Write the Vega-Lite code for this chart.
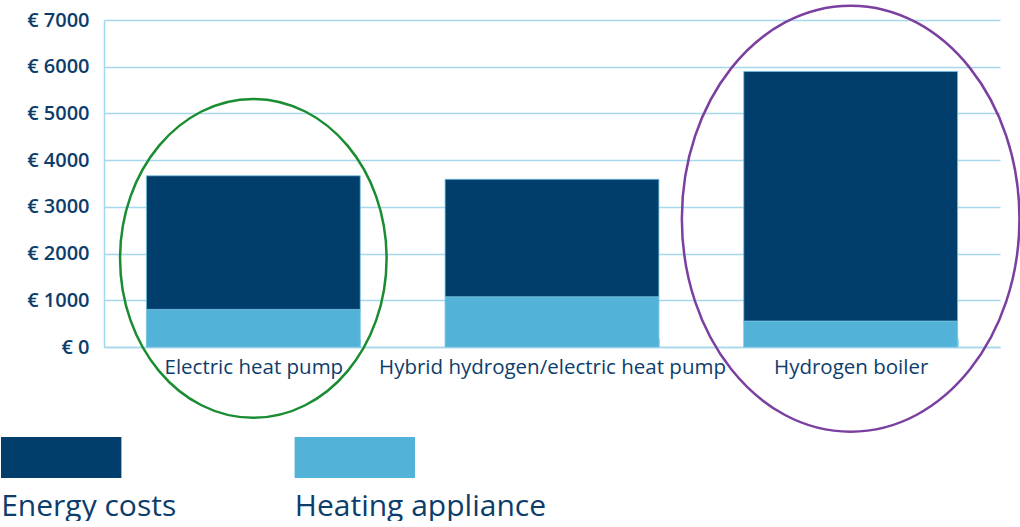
{
  "$schema": "https://vega.github.io/schema/vega-lite/v6.json",
  "padding": {"left": 0, "top": 0, "right": 0, "bottom": 0},
  "background": "white",
  "spacing": 0,
  "config": {
    "view": {"stroke": null},
    "font": "Open Sans",
    "axis": {"labelFont": "Open Sans"}
  },
  "vconcat": [
    {
      "width": 896,
      "height": 327,
      "layer": [
        {
          "data": {
            "values": [
              {"system": "Electric heat pump", "component": "Heating appliance", "cost": 805},
              {"system": "Electric heat pump", "component": "Energy costs", "cost": 2860},
              {"system": "Hybrid hydrogen/electric heat pump", "component": "Heating appliance", "cost": 1075},
              {"system": "Hybrid hydrogen/electric heat pump", "component": "Energy costs", "cost": 2515},
              {"system": "Hydrogen boiler", "component": "Heating appliance", "cost": 555},
              {"system": "Hydrogen boiler", "component": "Energy costs", "cost": 5345}
            ]
          },
          "mark": {"type": "bar", "stroke": "#72c2e2", "strokeWidth": 0.8},
          "encoding": {
            "x": {
              "field": "system",
              "type": "nominal",
              "sort": ["Electric heat pump", "Hybrid hydrogen/electric heat pump", "Hydrogen boiler"],
              "scale": {"paddingInner": 0.284, "paddingOuter": 0.142},
              "axis": {
                "title": null,
                "labelAngle": 0,
                "labelFontSize": 20.5,
                "labelColor": "#0d3d6b",
                "labelOverlap": false,
                "labelLimit": 0,
                "labelPadding": 19,
                "domainColor": "#a6d8ec",
                "domainWidth": 1.5,
                "tickColor": "#a6d8ec",
                "tickBand": "extent",
                "tickSize": -9,
                "tickWidth": 1
              }
            },
            "y": {
              "field": "cost",
              "type": "quantitative",
              "stack": "zero",
              "scale": {"domain": [0, 7000], "nice": false},
              "axis": {
                "title": null,
                "values": [0, 1000, 2000, 3000, 4000, 5000, 6000, 7000],
                "labelExpr": "'€ ' + datum.value",
                "labelFontSize": 20,
                "labelFontWeight": 600,
                "labelColor": "#0d3d6b",
                "labelPadding": 15,
                "minExtent": 103,
                "maxExtent": 103,
                "ticks": false,
                "domainColor": "#a6d8ec",
                "domainWidth": 1.5,
                "gridColor": "#a6d8ec",
                "gridWidth": 1.5
              }
            },
            "color": {
              "field": "component",
              "type": "nominal",
              "scale": {"domain": ["Energy costs", "Heating appliance"], "range": ["#023e6c", "#52b2d8"]},
              "legend": null
            },
            "order": {"field": "component", "sort": "descending"}
          }
        },
        {
          "data": {"values": [{"system": "Electric heat pump", "center": 1897}]},
          "mark": {
            "type": "point",
            "shape": "M0.836,0C0.836,0.5523,0.4617,1,0,1C-0.4617,1,-0.836,0.5523,-0.836,0C-0.836,-0.5523,-0.4617,-1,0,-1C0.4617,-1,0.836,-0.5523,0.836,0Z",
            "size": 101633,
            "filled": false,
            "opacity": 1,
            "stroke": "#1a8c32",
            "strokeWidth": 2.5
          },
          "encoding": {
            "x": {"field": "system", "type": "nominal"},
            "y": {"field": "center", "type": "quantitative"}
          }
        },
        {
          "data": {"values": [{"system": "Hydrogen boiler", "center": 2746}]},
          "mark": {
            "type": "point",
            "shape": "M0.7925,0C0.7925,0.5523,0.4377,1,0,1C-0.4377,1,-0.7925,0.5523,-0.7925,0C-0.7925,-0.5523,-0.4377,-1,0,-1C0.4377,-1,0.7925,-0.5523,0.7925,0Z",
            "size": 181476,
            "filled": false,
            "opacity": 1,
            "stroke": "#7b3fa0",
            "strokeWidth": 2.5
          },
          "encoding": {
            "x": {"field": "system", "type": "nominal"},
            "y": {"field": "center", "type": "quantitative"}
          }
        }
      ]
    },
    {
      "width": 414,
      "height": 41,
      "data": {"values": [{"component": "Energy costs"}, {"component": "Heating appliance"}]},
      "mark": {"type": "bar"},
      "encoding": {
        "x": {
          "field": "component",
          "type": "nominal",
          "scale": {"paddingInner": 0.59, "paddingOuter": 0, "align": 0, "range": [-103, 311]},
          "axis": {
            "title": null,
            "domain": false,
            "ticks": false,
            "grid": false,
            "labelAngle": 0,
            "labelAlign": "left",
            "labelOffset": -60,
            "labelFontSize": 30,
            "labelColor": "#0d3d6b",
            "labelPadding": 13,
            "labelLimit": 0,
            "labelOverlap": false
          }
        },
        "color": {
          "field": "component",
          "type": "nominal",
          "scale": {"domain": ["Energy costs", "Heating appliance"], "range": ["#023e6c", "#52b2d8"]},
          "legend": null
        }
      }
    }
  ]
}
